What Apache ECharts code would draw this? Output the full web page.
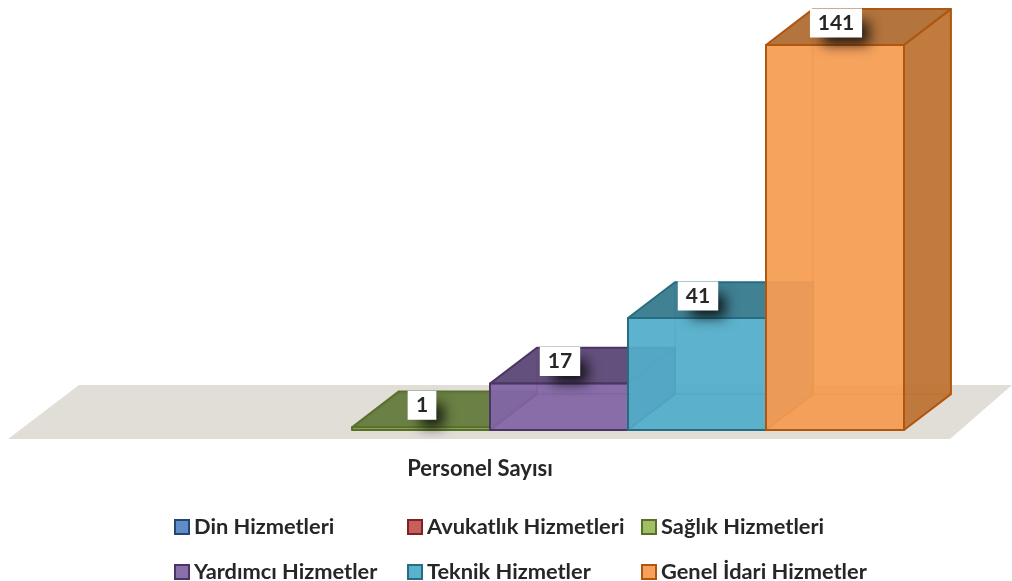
<!DOCTYPE html>
<html><head><meta charset="utf-8">
<style>html,body{margin:0;padding:0;background:#fff}#c{width:1012px;height:581px}</style>
<script src="https://cdn.jsdelivr.net/npm/echarts@6/dist/echarts.min.js"></script>
</head><body><div id="c"></div>
<script>
const categories = ['Din Hizmetleri','Avukatlık Hizmetleri','Sağlık Hizmetleri','Yardımcı Hizmetler','Teknik Hizmetler','Genel İdari Hizmetler'];
const values = [0, 0, 1, 17, 41, 141];
const axisTitle = 'Personel Sayısı';
const legendFill = ['#5F8DC7','#C85F5E','#A0BE62','#8A6FAB','#59B1CC','#F6A15B'];
const legendEdge = ['#25466F','#7A2524','#58702C','#4A3564','#256E82','#B0560F'];
const faceFront = ['#4F81BD','#C0504D','rgba(153,185,86,0.8)','rgba(129,100,165,0.8)','rgba(81,172,201,0.8)','rgba(245,155,80,0.8)'];
const faceInner = ['#4F81BD','#C0504D','rgba(125,150,75,0.7)','rgba(138,111,171,0.7)','rgba(93,178,205,0.7)','rgba(247,165,100,0.7)'];
const faceTop   = ['#385D8A','#8C3836','rgba(100,122,62,0.88)','rgba(90,70,115,0.88)','rgba(55,118,138,0.88)','rgba(168,105,50,0.88)'];
const faceSide  = ['#385D8A','#8C3836','rgba(100,122,62,0.88)','rgba(90,70,115,0.88)','rgba(55,118,138,0.88)','rgba(183,110,48,0.85)'];
const faceEdge  = ['#385D8A','#8C3836','rgba(88,112,44,0.35)','rgba(74,53,100,0.3)','rgba(37,110,130,0.25)','rgba(226,120,40,0.4)'];
const FONT = 'Lato, "Open Sans", sans-serif';
const TEXT = '#262626';

function poly(points, fill, stroke, lw, z2){
  return {type:'polygon', z2:z2||0, shape:{points}, style:{fill, stroke:stroke||null, lineWidth:lw||0, lineJoin:'round'}, silent:true};
}
function line(a, b, stroke){
  return {type:'line', silent:true, shape:{x1:a[0],y1:a[1],x2:b[0],y2:b[1]}, style:{stroke, lineWidth:2}};
}
function renderBar(params, api){
  const idx = api.value(0), val = api.value(1);
  if(!val) return {type:'group', children:[]};
  const i = idx;
  const w = api.size([1,0])[0];
  const dx = w*0.34, dy = w*0.26;
  const base = api.coord([idx,0]), top = api.coord([idx,val]);
  const x0 = base[0]-w/2, x1 = base[0]+w/2, y0 = base[1], y1 = top[1];
  const e = legendEdge[i];
  const f = {
    bl:[x0,y0], br:[x1,y0], tl:[x0,y1], tr:[x1,y1],
    bbl:[x0+dx,y0-dy], bbr:[x1+dx,y0-dy], btl:[x0+dx,y1-dy], btr:[x1+dx,y1-dy]
  };
  const kids = [
    poly([f.bbl,f.bbr,f.btr,f.btl], faceInner[i]),
    poly([f.bl,f.bbl,f.btl,f.tl], faceInner[i]),
    poly([f.bl,f.br,f.bbr,f.bbl], faceInner[i]),
    line(f.bbl,f.btl,faceEdge[i]),
    line(f.bbl,f.bbr,faceEdge[i]),
    line(f.bl,f.bbl,faceEdge[i]),
    poly([f.tl,f.tr,f.btr,f.btl], faceTop[i], e, 2),
    poly([f.br,f.bbr,f.btr,f.tr], faceSide[i], e, 2),
    poly([f.bl,f.br,f.tr,f.tl], faceFront[i], e, 2)
  ];
  const label = String(val);
  const lw = 17 + label.length*11.7, lh = 29, cx = base[0]+1, cy = y1-22;
  const inset = 3;
  kids.push({type:'rect', z2:50, silent:true,
    shape:{x:cx-lw/2+inset, y:cy-lh/2+inset, width:lw-2*inset, height:lh-2*inset},
    style:{fill:'#fff', shadowBlur:13, shadowColor:'rgba(0,0,0,0.8)', shadowOffsetX:10, shadowOffsetY:10}});
  kids.push({type:'rect', z2:51, silent:true,
    shape:{x:cx-lw/2, y:cy-lh/2, width:lw, height:lh}, style:{fill:'#fff'}});
  kids.push({type:'text', z2:52, silent:true,
    style:{x:cx, y:cy, text:label, align:'center', verticalAlign:'middle', fill:TEXT, font:'bold 21px '+FONT}});
  return {type:'group', children:kids};
}

const legendPos = [[174,516],[407,516],[641,516],[174,561],[407,561],[641,561]];
const option = {
  animation:false,
  backgroundColor:'#ffffff',
  grid:{left:76, width:828, top:45, height:385, containLabel:false},
  xAxis:{type:'category', data:categories, axisLine:{show:false}, axisTick:{show:false}, axisLabel:{show:false}, splitLine:{show:false},
    name:axisTitle, nameLocation:'middle', nameGap:28,
    nameTextStyle:{fontFamily:FONT, fontWeight:'bold', fontSize:22, color:TEXT, padding:[0,20,0,0]}},
  yAxis:{type:'value', min:0, max:141, show:false, splitLine:{show:false}},
  graphic:[{type:'polygon', z:0, silent:true, shape:{points:[[8,439],[79,385],[1012,385],[950,439]]}, style:{fill:'#E0DED7'}}],
  legend: categories.map((name,i)=>({
    left:legendPos[i][0], top:legendPos[i][1], padding:0, itemWidth:14, itemHeight:14, itemGap:0,
    selectedMode:false, icon:'rect',
    data:[{name, itemStyle:{color:legendFill[i], borderColor:legendEdge[i], borderWidth:2}}],
    textStyle:{fontFamily:FONT, fontWeight:'bold', fontSize:21.8, color:TEXT, padding:[0,0,3,0]}
  })),
  series: categories.map((name,i)=>({
    type:'custom', name, coordinateSystem:'cartesian2d', clip:false, z:2+i,
    itemStyle:{color:legendFill[i]},
    encode:{x:0,y:1},
    data:[[i, values[i]]],
    renderItem:renderBar
  }))
};
const chart = echarts.init(document.getElementById('c'), null, {renderer:'canvas'});
chart.setOption(option);
</script></body></html>
